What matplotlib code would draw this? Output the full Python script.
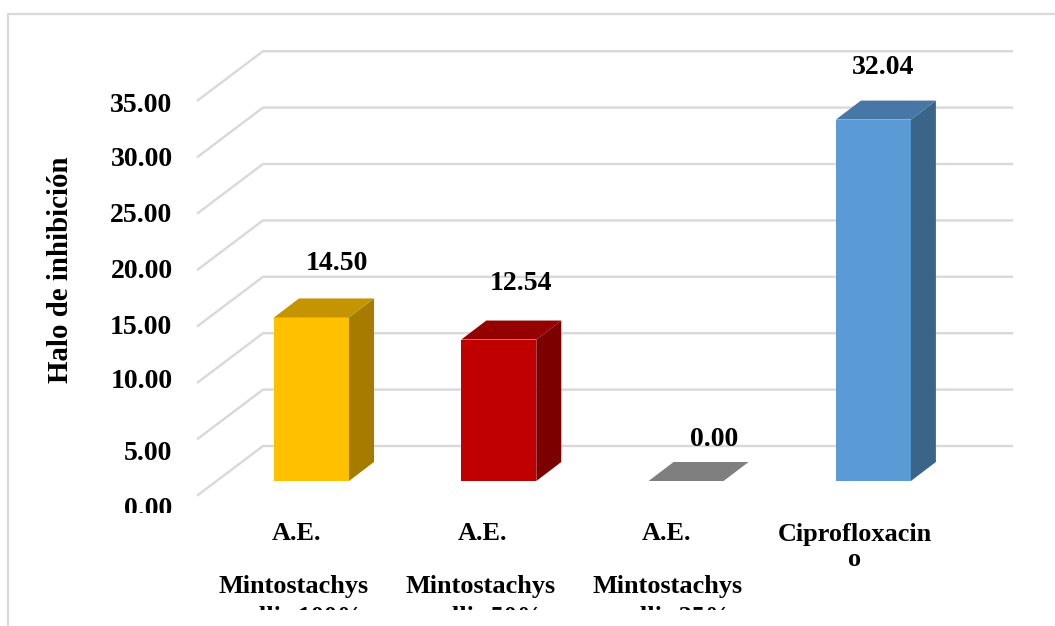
"""Oblique 3D-style bar chart of inhibition halos."""

import matplotlib

matplotlib.use("Agg")
import matplotlib.pyplot as plt
from matplotlib.patches import Polygon, Rectangle

W, H = 1055, 626

categories = [["A.E.", "Mintostachys", "mollis 100%"],
              ["A.E.", "Mintostachys", "mollis 50%"],
              ["A.E.", "Mintostachys", "mollis 25%"],
              ["Ciprofloxacin", "o"]]
values = [14.50, 12.54, 0.00, 32.04]
value_labels = ["14.50", "12.54", "0.00", "32.04"]
yticks = [0, 5, 10, 15, 20, 25, 30, 35]
ytick_labels = ["0.00", "5.00", "10.00", "15.00", "20.00", "25.00", "30.00", "35.00"]
ylabel = "Halo de inhibición"

FRONT = "#FFC000", "#C00000", "#7F7F7F", "#5B9BD5"
SIDE = "#A67C00", "#7D0000", "#606060", "#3B6588"
TOP = "#C49500", "#950000", "#7F7F7F", "#4677A5"
GRID = "#D9D9D9"

# pixel layout of the oblique projection
Y_SCALE = 11.28      # px per unit
BASE_Y = 481
SPACING = 187.3
X0 = 311.5
BAR_W = 75
DX, DY = 25 / SPACING, 19 / Y_SCALE


def dx(px):
    return (px - X0) / SPACING


def dy(py):
    return (BASE_Y - py) / Y_SCALE


plt.rcParams["font.family"] = ["Liberation Serif", "DejaVu Serif"]
plt.rcParams["font.weight"] = "bold"

fig = plt.figure(figsize=(W / 100, H / 100), dpi=100, facecolor="white")
ax = fig.add_axes([0, 0, 1, 1])
ax.set_xlim(dx(0), dx(W))
ax.set_ylim(dy(H), dy(0))
ax.axis("off")

# outer chart border (only top and left are in frame)
ax.plot([dx(8), dx(8), dx(W)], [dy(H), dy(14), dy(14)], color=GRID, lw=1.6, solid_capstyle="butt")

# gridlines: side wall diagonal then back wall
for v in yticks:
    y_front = v + dy(495)
    y_back = v + dy(446)
    ax.plot([dx(198), dx(263), dx(1012)], [y_front, y_back, y_back], color=GRID, lw=1.7, zorder=1)

# bars
half = BAR_W / 2 / SPACING
for i, v in enumerate(values):
    l, r = i - half, i + half
    if v > 0:
        ax.add_patch(Rectangle((l, 0), r - l, v, fc=FRONT[i], ec="none", zorder=3))
        ax.add_patch(Polygon([(r, 0), (r + DX, DY), (r + DX, v + DY), (r, v)], fc=SIDE[i], ec="none", zorder=3))
    ax.add_patch(Polygon([(l, v), (l + DX, v + DY), (r + DX, v + DY), (r, v)], fc=TOP[i], ec="none", zorder=3))

# value labels
label_pos = [(336.5, 264), (521, 284), (714, 440), (883, 68)]
for (px, py), t in zip(label_pos, value_labels):
    ax.text(dx(px), dy(py), t, fontsize=20, ha="center", va="center", color="black", zorder=5)

# y tick labels, the lowest one is cut off in the reference
tick_y = [510, 453, 382, 328, 271, 215, 159, 105]
tick_clip = Rectangle((dx(0), dy(513)), dx(W) - dx(0), dy(0) - dy(513), transform=ax.transData)
for py, t in zip(tick_y, ytick_labels):
    txt = ax.text(dx(172.5), dy(py), t, fontsize=20, ha="right", va="center", color="black", zorder=5, clip_on=True)
    txt.set_clip_path(tick_clip)

ax.text(dx(60), dy(270), ylabel, fontsize=20.8, rotation=90, ha="center", va="center", color="black")

# category labels, last line is cut at the bottom of the chart area
cat_clip = Rectangle((dx(0), dy(610)), dx(W) - dx(0), dy(0) - dy(610), transform=ax.transData)
line_x = [(296.5, 293.5, 293.5), (483, 480.5, 480.5), (667, 668, 668), (854.5, 854.5)]
line_y = [(534, 586, 618), (534, 586, 618), (534, 586, 618), (534, 560)]
for xs, ys, lines in zip(line_x, line_y, categories):
    for px, py, line in zip(xs, ys, lines):
        txt = ax.text(dx(px), dy(py), line, fontsize=18.9, ha="center", va="center", color="black", zorder=5, clip_on=True)
        txt.set_clip_path(cat_clip)

fig.savefig("out.png", dpi=100)
